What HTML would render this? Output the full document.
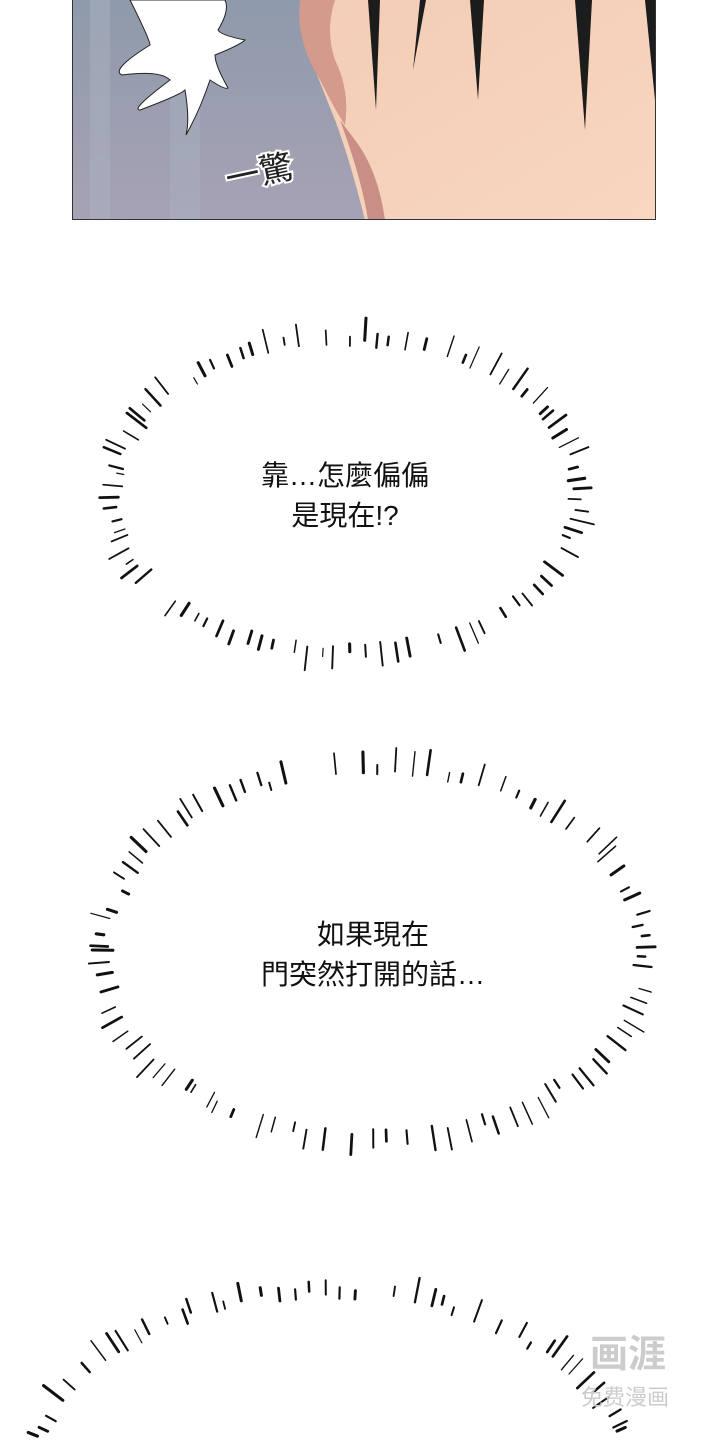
<!DOCTYPE html>
<html><head><meta charset="utf-8"><style>
html,body{margin:0;padding:0;background:#fff;}
body{width:720px;height:1440px;overflow:hidden;position:relative;font-family:"Liberation Sans","Noto Sans CJK TC",sans-serif;}
.t{position:absolute;text-align:center;font-size:28px;line-height:40px;color:#111;}
</style></head><body>
<svg id="s" width="720" height="1440" style="position:absolute;left:0;top:0;overflow:hidden">
<defs>
<linearGradient id="bg" x1="0" y1="0" x2="0" y2="1"><stop offset="0" stop-color="#8e9aab"/><stop offset="1" stop-color="#a7a2b5"/></linearGradient>
<linearGradient id="sk" x1="0" y1="0" x2="1" y2="1"><stop offset="0" stop-color="#f3cdb5"/><stop offset="1" stop-color="#f8d6c0"/></linearGradient>
</defs>
<rect x="72" y="0" width="584" height="220" fill="url(#bg)"/>
<rect x="90" y="0" width="20" height="220" fill="#a9b2bf" opacity=".5"/>
<rect x="170" y="0" width="30" height="220" fill="#aab3c2" opacity=".4"/>
<path d="M300 0 L656 0 L656 220 L365 220 Q350 160 335 120 L315 70 Z" fill="url(#sk)"/>
<path d="M300 0 Q295 40 320 80 Q335 110 345 125 Q350 90 335 60 Q325 30 335 0 Z" fill="#d49a8c"/>
<path d="M340 120 Q362 180 368 220 L385 220 Q378 170 355 140 Z" fill="#c98f86"/>
<path d="M368 0 L376 110 L380 0 Z M420 0 L413 70 L426 0 Z M470 0 L478 100 L484 0 Z M575 0 L585 130 L592 0 Z M645 0 L656 110 L656 0 Z" fill="#1c1c1c"/>
<path d="M130 0 Q150 40 150 45 Q110 70 122 75 Q160 70 170 80 Q130 110 140 110 Q180 95 185 90 Q190 120 186 135 Q200 110 210 80 Q225 90 228 88 Q215 65 215 55 Q240 45 245 40 Q220 35 218 30 Q230 10 225 0 Z" fill="#fff" stroke="#222" stroke-width="1"/>
<text x="225" y="182" font-size="34" fill="#222" stroke="#fff" stroke-width="4" paint-order="stroke" font-family="Noto Sans CJK TC" transform="rotate(-12 270 170)">一驚</text>
<rect x="72.5" y="-1" width="583" height="220.5" fill="none" stroke="#333" stroke-width="1"/>
<g id="b" stroke="#111" stroke-linecap="round"></g>
<text x="628" y="1367" font-size="38" fill="#ccc" font-family="Noto Sans CJK SC" text-anchor="middle" font-weight="bold">画涯</text>
<text x="625" y="1405" font-size="22" fill="#ccc" font-family="Noto Sans CJK SC" text-anchor="middle">免费漫画</text>
</svg>
<div class="t" style="left:195px;top:456px;width:300px">靠…怎麼偏偏<br>是現在!?</div>
<div class="t" style="left:223px;top:915px;width:300px">如果現在<br>門突然打開的話…</div>
<script>
var g=document.getElementById('b'),h='';
var seed=11;function r(){seed=(seed*9301+49297)%233280;return seed/233280;}
function burst(cx,cy,rx,ry,n){
 for(var i=0;i<n;i++){
  var a=i/n*Math.PI*2+r()*0.04;
  if(r()<0.1)continue;
  var L=7+r()*18,k=1+(r()-0.5)*0.05;
  var c=Math.cos(a),s=Math.sin(a);
  var x1=cx+c*rx*k,y1=cy+s*ry*k;
  var d=Math.hypot(c*ry,s*rx);var nx=c*ry/d,ny=s*rx/d;
  var x2=x1+nx*L,y2=y1+ny*L;
  h+='<line x1="'+x1.toFixed(1)+'" y1="'+y1.toFixed(1)+'" x2="'+x2.toFixed(1)+'" y2="'+y2.toFixed(1)+'" stroke-width="'+(1.2+r()*2).toFixed(1)+'"/>';
 }
}
burst(345,495,228,152,95);
burst(373,952,265,180,105);
burst(330,1485,295,190,110);
g.innerHTML=h;
</script>
</body></html>
